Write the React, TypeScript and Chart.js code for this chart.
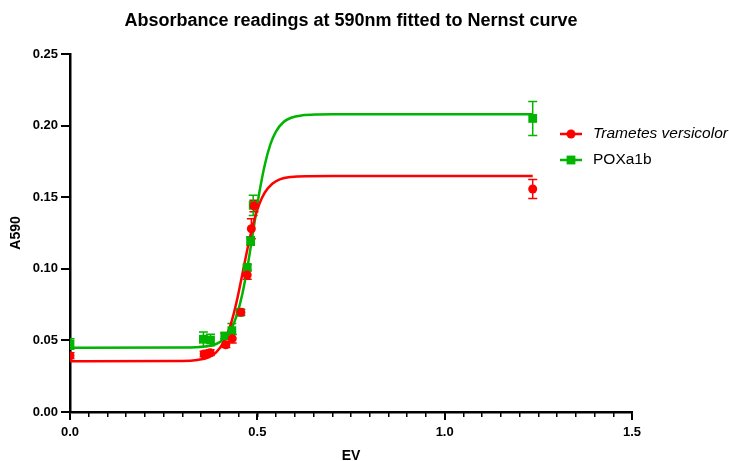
import { useEffect, useRef } from "react";
import { Chart, registerables } from "chart.js";

Chart.register(...registerables);

// ---- data ----
const seriesNames = ["Trametes versicolor", "POXa1b"];

const redX = [0, 0.358, 0.374, 0.416, 0.433, 0.456, 0.473, 0.484, 0.491, 1.235];
const redY = [0.0393, 0.0405, 0.0414, 0.047, 0.0512, 0.0696, 0.0957, 0.128, 0.1439, 0.1557];
const redErr = [0.002, 0.002, 0.002, 0.002, 0.003, 0.002, 0.003, 0.007, 0.004, 0.0066];

const greenX = [0, 0.356, 0.375, 0.413, 0.432, 0.454, 0.473, 0.482, 0.489, 1.235];
const greenY = [0.0475, 0.0508, 0.0503, 0.0531, 0.0568, 0.0696, 0.101, 0.1194, 0.1443, 0.205];
const greenErr = [0.0037, 0.005, 0.004, 0.002, 0.005, 0.002, 0.002, 0.003, 0.007, 0.0119];

// fitted (Nernst) curves
const redFitX = [0, 0.3, 0.34, 0.37, 0.39, 0.41, 0.43, 0.445, 0.46, 0.475, 0.49, 0.505, 0.52, 0.54, 0.56, 0.59, 0.63, 0.7, 1.235];
const redFitY = [0.0354, 0.0356, 0.0363, 0.0382, 0.0417, 0.0488, 0.0621, 0.0773, 0.0962, 0.1156, 0.1325, 0.145, 0.1533, 0.1594, 0.1624, 0.1641, 0.1647, 0.1648, 0.1648];

const greenFitX = [0, 0.3, 0.36, 0.39, 0.41, 0.43, 0.445, 0.46, 0.475, 0.49, 0.505, 0.52, 0.535, 0.55, 0.57, 0.59, 0.62, 0.66, 0.7, 1.235];
const greenFitY = [0.0449, 0.045, 0.0457, 0.0475, 0.0508, 0.0577, 0.0674, 0.0824, 0.1033, 0.1281, 0.1527, 0.1727, 0.187, 0.196, 0.2025, 0.2055, 0.2072, 0.2078, 0.2079, 0.2079];

const xMin = 0;
const xMax = 1.5;
const xMajorStep = 0.5;
const xMinorStep = 0.05;
const yMin = 0;
const yMax = 0.25;
const yStep = 0.05;

const RED = "#FF0000";
const GREEN = "#00B400";
const FONT = "Arial, 'Liberation Sans', sans-serif";

const toPoints = (xs: number[], ys: number[]) => xs.map((x, i) => ({ x, y: ys[i] }));

const errorBarPlugin = {
  id: "errorBars",
  beforeDatasetsDraw(chart: any) {
    const { ctx, chartArea, scales } = chart;
    ctx.save();
    ctx.beginPath();
    ctx.rect(chartArea.left, chartArea.top, chartArea.right - chartArea.left, chartArea.bottom - chartArea.top);
    ctx.clip();
    chart.data.datasets.forEach((ds: any) => {
      if (!ds.errors) return;
      ctx.strokeStyle = ds.borderColor;
      ctx.lineWidth = 1.5;
      ds.data.forEach((p: any, i: number) => {
        const e = ds.errors[i];
        if (!e) return;
        const px = scales.x.getPixelForValue(p.x);
        const pt = scales.y.getPixelForValue(p.y + e);
        const pb = scales.y.getPixelForValue(p.y - e);
        ctx.beginPath();
        ctx.moveTo(px, pt);
        ctx.lineTo(px, pb);
        ctx.moveTo(px - 4.5, pt);
        ctx.lineTo(px + 4.5, pt);
        ctx.moveTo(px - 4.5, pb);
        ctx.lineTo(px + 4.5, pb);
        ctx.stroke();
      });
    });
    ctx.restore();
  },
};

const legendPlugin = {
  id: "customLegend",
  afterDraw(chart: any) {
    const { ctx } = chart;
    const items = [
      { label: seriesNames[0], color: RED, shape: "circle", italic: true, y: 134 },
      { label: seriesNames[1], color: GREEN, shape: "rect", italic: false, y: 160 },
    ];
    ctx.save();
    items.forEach((it) => {
      ctx.strokeStyle = it.color;
      ctx.fillStyle = it.color;
      ctx.lineWidth = 2.5;
      ctx.beginPath();
      ctx.moveTo(560, it.y);
      ctx.lineTo(582, it.y);
      ctx.stroke();
      ctx.beginPath();
      if (it.shape === "circle") {
        ctx.arc(571, it.y, 4.5, 0, Math.PI * 2);
      } else {
        ctx.rect(571 - 4.4, it.y - 4.4, 8.8, 8.8);
      }
      ctx.fill();
      ctx.fillStyle = "#000";
      ctx.font = `${it.italic ? "italic " : ""}15.5px ${FONT}`;
      ctx.textBaseline = "middle";
      ctx.textAlign = "left";
      ctx.fillText(it.label, 593, it.y);
    });
    ctx.restore();
  },
};

export default function App() {
  const ref = useRef<HTMLCanvasElement | null>(null);

  useEffect(() => {
    if (!ref.current) return;
    const chart = new Chart(ref.current, {
      type: "scatter",
      data: {
        datasets: [
          {
            label: seriesNames[0] + " fit",
            data: toPoints(redFitX, redFitY),
            showLine: true,
            borderColor: RED,
            backgroundColor: RED,
            borderWidth: 2.5,
            pointRadius: 0,
            cubicInterpolationMode: "monotone",
            order: 3,
            clip: 0,
          } as any,
          {
            label: seriesNames[1] + " fit",
            data: toPoints(greenFitX, greenFitY),
            showLine: true,
            borderColor: GREEN,
            backgroundColor: GREEN,
            borderWidth: 2.5,
            pointRadius: 0,
            cubicInterpolationMode: "monotone",
            order: 4,
            clip: 0,
          } as any,
          {
            label: seriesNames[0],
            data: toPoints(redX, redY),
            errors: redErr,
            showLine: false,
            borderColor: RED,
            backgroundColor: RED,
            pointStyle: "circle",
            pointRadius: 4.5,
            pointBorderWidth: 0,
            order: 1,
            clip: 0,
          } as any,
          {
            label: seriesNames[1],
            data: toPoints(greenX, greenY),
            errors: greenErr,
            showLine: false,
            borderColor: GREEN,
            backgroundColor: GREEN,
            pointStyle: "rect",
            pointRadius: 6.2,
            pointBorderWidth: 0,
            order: 2,
            clip: 0,
          } as any,
        ],
      },
      options: {
        animation: false,
        responsive: false,
        layout: { padding: { left: 0, right: 97, top: 0, bottom: 0 } },
        plugins: {
          legend: { display: false },
          tooltip: { enabled: false },
          title: {
            display: true,
            text: "Absorbance readings at 590nm fitted to Nernst curve",
            fullSize: false,
            color: "#000",
            font: { family: FONT, size: 18, weight: "bold", lineHeight: 1.2 },
            padding: { top: 10.5, bottom: 21.9 },
          },
        },
        scales: {
          xMinor: {
            type: "linear",
            position: "bottom",
            min: xMin,
            max: xMax,
            weight: 0,
            afterBuildTicks: (scale: any) => {
              const t = [];
              for (let i = 0; i <= Math.round((xMax - xMin) / xMinorStep); i++) t.push({ value: xMin + i * xMinorStep });
              scale.ticks = t;
            },
            afterFit: (scale: any) => {
              scale.height = 0;
            },
            ticks: { display: false, autoSkip: false },
            grid: { drawOnChartArea: false, drawTicks: true, tickLength: 5, color: "#000", lineWidth: 1.5 },
            border: { display: false },
          } as any,
          x: {
            type: "linear",
            position: "bottom",
            min: xMin,
            max: xMax,
            weight: 1,
            afterFit: (scale: any) => {
              scale.height = 49;
            },
            ticks: {
              stepSize: xMajorStep,
              autoSkip: false,
              maxRotation: 0,
              color: "#000",
              padding: 5,
              font: { family: FONT, size: 13, weight: "bold" },
              callback: (v: any) => Number(v).toFixed(1),
            },
            grid: { drawOnChartArea: false, drawTicks: true, tickLength: 8, color: "#000", lineWidth: 2 },
            border: { display: true, color: "#000", width: 2.5 },
            title: {
              display: true,
              text: "EV",
              color: "#000",
              font: { family: FONT, size: 14, weight: "bold", lineHeight: 0.7 },
              padding: { top: 0, bottom: 0 },
            },
          } as any,
          y: {
            type: "linear",
            position: "left",
            min: yMin,
            max: yMax,
            afterFit: (scale: any) => {
              scale.width = 70;
            },
            ticks: {
              stepSize: yStep,
              color: "#000",
              padding: 3,
              font: { family: FONT, size: 13, weight: "bold" },
              callback: (v: any) => Number(v).toFixed(2),
            },
            grid: { drawOnChartArea: false, drawTicks: true, tickLength: 9, color: "#000", lineWidth: 2 },
            border: { display: true, color: "#000", width: 2.5 },
            title: {
              display: true,
              text: "A590",
              color: "#000",
              font: { family: FONT, size: 14, weight: "bold", lineHeight: 1.2 },
              padding: { top: 8, bottom: 0 },
            },
          } as any,
        },
      } as any,
      plugins: [errorBarPlugin, legendPlugin],
    });
    return () => chart.destroy();
  }, []);

  return (
    <div style={{ position: "absolute", left: 0, top: 0, width: 729, height: 461, background: "#fff" }}>
      <canvas ref={ref} width={729} height={461} style={{ display: "block" }} />
    </div>
  );
}
